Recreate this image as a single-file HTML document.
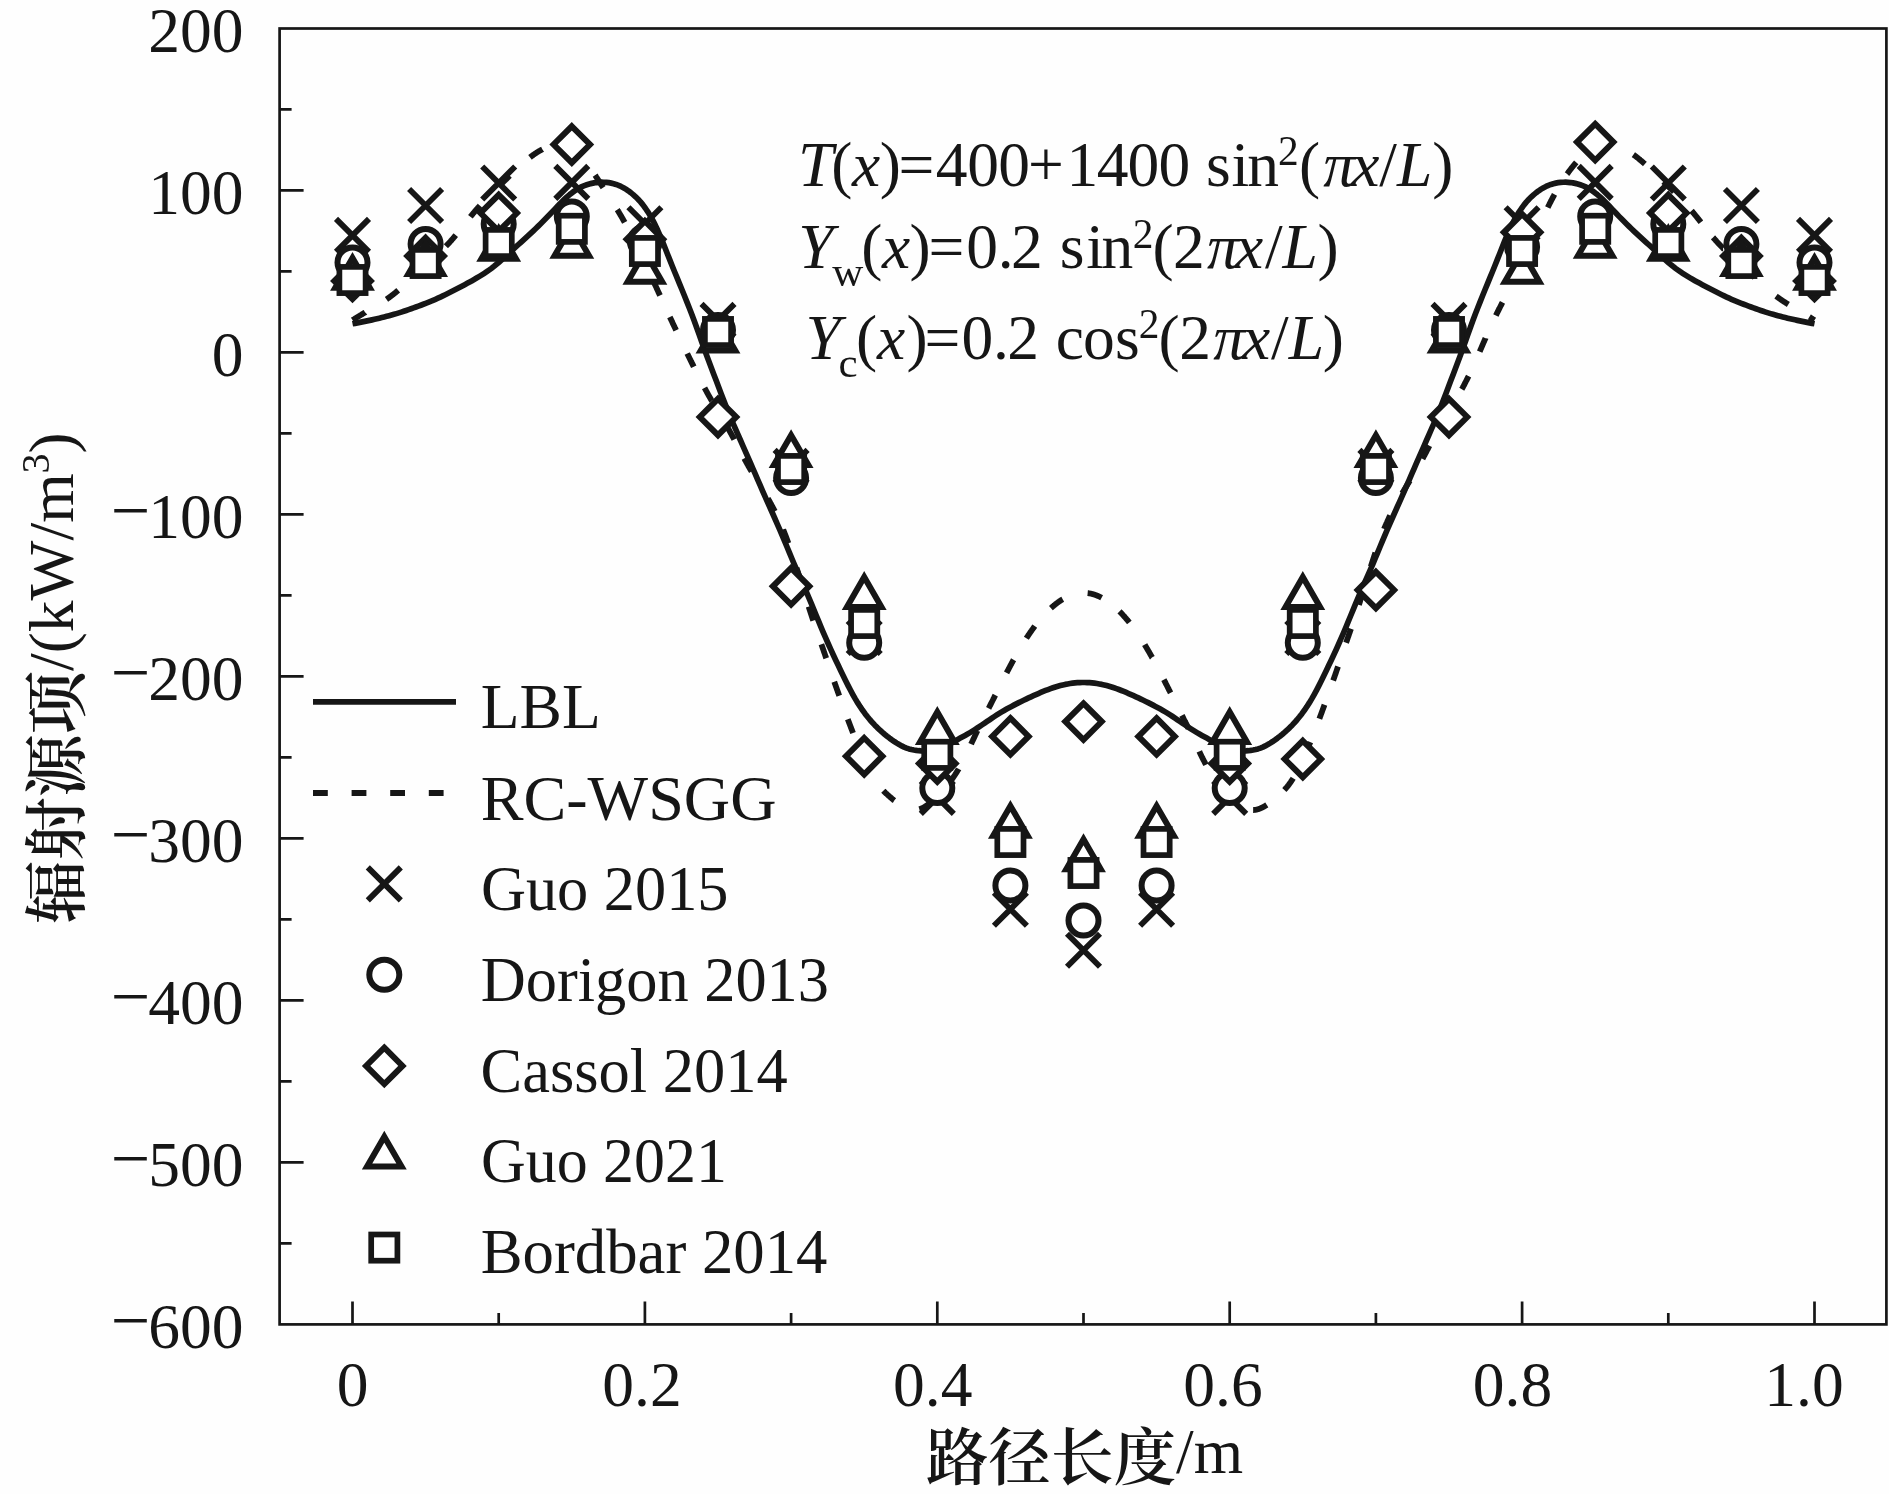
<!DOCTYPE html><html><head><meta charset="utf-8"><title>辐射源项</title><style>html,body{margin:0;padding:0;background:#fefefe;}svg{display:block;will-change:transform;}text{font-family:"Liberation Serif","Noto Serif CJK SC",serif;fill:#161616;}.cjk{font-family:"Noto Serif CJK SC","Liberation Serif",serif;font-weight:600;}</style></head><body>
<svg width="1889" height="1494" viewBox="0 0 1889 1494">
<rect x="0" y="0" width="1889" height="1494" fill="#fefefe"/>
<path d="M352.50,323.81L354.94,323.34L357.38,322.86L359.82,322.37L362.26,321.88L364.70,321.39L367.14,320.88L369.59,320.37L372.03,319.84L374.47,319.30L376.91,318.75L379.35,318.18L381.79,317.59L384.23,316.99L386.67,316.36L389.11,315.71L391.55,315.04L393.99,314.34L396.43,313.62L398.87,312.87L401.31,312.10L403.76,311.30L406.20,310.49L408.64,309.65L411.08,308.80L413.52,307.92L415.96,307.03L418.40,306.13L420.84,305.21L423.28,304.27L425.72,303.32L428.16,302.35L430.60,301.35L433.04,300.33L435.48,299.28L437.93,298.20L440.37,297.08L442.81,295.93L445.25,294.75L447.69,293.54L450.13,292.31L452.57,291.06L455.01,289.79L457.45,288.52L459.89,287.24L462.33,285.95L464.77,284.65L467.21,283.34L469.66,282.00L472.10,280.65L474.54,279.26L476.98,277.83L479.42,276.37L481.86,274.86L484.30,273.30L486.74,271.67L489.18,269.96L491.62,268.18L494.06,266.31L496.50,264.34L498.94,262.28L501.38,260.16L503.83,257.97L506.27,255.75L508.71,253.49L511.15,251.23L513.59,248.96L516.03,246.71L518.47,244.49L520.91,242.27L523.35,240.06L525.79,237.84L528.23,235.62L530.67,233.37L533.11,231.09L535.56,228.77L538.00,226.41L540.44,224.02L542.88,221.58L545.32,219.11L547.76,216.61L550.20,214.06L552.64,211.49L555.08,208.88L557.52,206.29L559.96,203.74L562.40,201.28L564.84,198.92L567.28,196.69L569.73,194.60L572.17,192.66L574.61,190.88L577.05,189.28L579.49,187.87L581.93,186.65L584.37,185.60L586.81,184.72L589.25,183.98L591.69,183.38L594.13,182.90L596.57,182.55L599.01,182.33L601.45,182.22L603.90,182.24L606.34,182.39L608.78,182.68L611.22,183.11L613.66,183.68L616.10,184.43L618.54,185.34L620.98,186.43L623.42,187.70L625.86,189.14L628.30,190.78L630.74,192.59L633.18,194.60L635.63,196.81L638.07,199.23L640.51,201.91L642.95,204.89L645.39,208.21L647.83,211.86L650.27,215.84L652.71,220.18L655.15,224.91L657.59,230.03L660.03,235.54L662.47,241.40L664.91,247.48L667.35,253.69L669.80,259.89L672.24,265.99L674.68,271.97L677.12,277.90L679.56,283.82L682.00,289.77L684.44,295.77L686.88,301.84L689.32,308.02L691.76,314.34L694.20,320.83L696.64,327.50L699.08,334.31L701.53,341.17L703.97,347.99L706.41,354.71L708.85,361.28L711.29,367.75L713.73,374.16L716.17,380.56L718.61,386.99L721.05,393.43L723.49,399.79L725.93,406.00L728.37,412.08L730.81,418.02L733.25,423.81L735.70,429.45L738.14,435.00L740.58,440.52L743.02,446.03L745.46,451.56L747.90,457.11L750.34,462.69L752.78,468.30L755.22,473.93L757.66,479.56L760.10,485.18L762.54,490.77L764.98,496.30L767.42,501.80L769.87,507.28L772.31,512.76L774.75,518.27L777.19,523.80L779.63,529.41L782.07,535.11L784.51,540.91L786.95,546.77L789.39,552.65L791.83,558.50L794.27,564.28L796.71,569.95L799.15,575.50L801.60,581.00L804.04,586.51L806.48,592.09L808.92,597.80L811.36,603.64L813.80,609.56L816.24,615.51L818.68,621.44L821.12,627.30L823.56,633.06L826.00,638.72L828.44,644.27L830.88,649.69L833.32,654.98L835.77,660.18L838.21,665.34L840.65,670.46L843.09,675.52L845.53,680.50L847.97,685.36L850.41,690.06L852.85,694.56L855.29,698.85L857.73,702.91L860.17,706.72L862.61,710.29L865.05,713.65L867.49,716.79L869.94,719.75L872.38,722.53L874.82,725.15L877.26,727.62L879.70,729.96L882.14,732.18L884.58,734.27L887.02,736.24L889.46,738.10L891.90,739.86L894.34,741.52L896.78,743.09L899.22,744.56L901.67,745.90L904.11,747.08L906.55,748.08L908.99,748.89L911.43,749.54L913.87,750.05L916.31,750.43L918.75,750.71L921.19,750.89L923.63,750.99L926.07,750.98L928.51,750.86L930.95,750.60L933.39,750.21L935.84,749.67L938.28,748.99L940.72,748.16L943.16,747.18L945.60,746.06L948.04,744.82L950.48,743.51L952.92,742.15L955.36,740.78L957.80,739.44L960.24,738.11L962.68,736.77L965.12,735.43L967.57,734.05L970.01,732.62L972.45,731.13L974.89,729.59L977.33,728.01L979.77,726.39L982.21,724.75L984.65,723.09L987.09,721.43L989.53,719.77L991.97,718.12L994.41,716.50L996.85,714.92L999.29,713.38L1001.74,711.89L1004.18,710.45L1006.62,709.06L1009.06,707.71L1011.50,706.40L1013.94,705.12L1016.38,703.87L1018.82,702.65L1021.26,701.44L1023.70,700.25L1026.14,699.08L1028.58,697.92L1031.02,696.79L1033.46,695.68L1035.91,694.59L1038.35,693.52L1040.79,692.48L1043.23,691.46L1045.67,690.48L1048.11,689.54L1050.55,688.63L1052.99,687.78L1055.43,686.98L1057.87,686.24L1060.31,685.56L1062.75,684.95L1065.19,684.41L1067.64,683.94L1070.08,683.53L1072.52,683.19L1074.96,682.92L1077.40,682.71L1079.84,682.58L1082.28,682.51L1084.72,682.51L1087.16,682.58L1089.60,682.71L1092.04,682.92L1094.48,683.19L1096.92,683.53L1099.36,683.94L1101.81,684.41L1104.25,684.95L1106.69,685.56L1109.13,686.24L1111.57,686.98L1114.01,687.78L1116.45,688.63L1118.89,689.54L1121.33,690.48L1123.77,691.46L1126.21,692.48L1128.65,693.52L1131.09,694.59L1133.54,695.68L1135.98,696.79L1138.42,697.92L1140.86,699.08L1143.30,700.25L1145.74,701.44L1148.18,702.65L1150.62,703.87L1153.06,705.12L1155.50,706.40L1157.94,707.71L1160.38,709.06L1162.82,710.45L1165.26,711.89L1167.71,713.38L1170.15,714.92L1172.59,716.50L1175.03,718.12L1177.47,719.77L1179.91,721.43L1182.35,723.09L1184.79,724.75L1187.23,726.39L1189.67,728.01L1192.11,729.59L1194.55,731.13L1196.99,732.62L1199.43,734.05L1201.88,735.43L1204.32,736.77L1206.76,738.11L1209.20,739.44L1211.64,740.78L1214.08,742.15L1216.52,743.51L1218.96,744.82L1221.40,746.06L1223.84,747.18L1226.28,748.16L1228.72,748.99L1231.16,749.67L1233.61,750.21L1236.05,750.60L1238.49,750.86L1240.93,750.98L1243.37,750.99L1245.81,750.89L1248.25,750.71L1250.69,750.43L1253.13,750.05L1255.57,749.54L1258.01,748.89L1260.45,748.08L1262.89,747.08L1265.33,745.90L1267.78,744.56L1270.22,743.09L1272.66,741.52L1275.10,739.86L1277.54,738.10L1279.98,736.24L1282.42,734.27L1284.86,732.18L1287.30,729.96L1289.74,727.62L1292.18,725.15L1294.62,722.53L1297.06,719.75L1299.51,716.79L1301.95,713.65L1304.39,710.29L1306.83,706.72L1309.27,702.91L1311.71,698.85L1314.15,694.56L1316.59,690.06L1319.03,685.36L1321.47,680.50L1323.91,675.52L1326.35,670.46L1328.79,665.34L1331.23,660.18L1333.68,654.98L1336.12,649.69L1338.56,644.27L1341.00,638.72L1343.44,633.06L1345.88,627.30L1348.32,621.44L1350.76,615.51L1353.20,609.56L1355.64,603.64L1358.08,597.80L1360.52,592.09L1362.96,586.51L1365.40,581.00L1367.85,575.50L1370.29,569.95L1372.73,564.28L1375.17,558.50L1377.61,552.65L1380.05,546.77L1382.49,540.91L1384.93,535.11L1387.37,529.41L1389.81,523.80L1392.25,518.27L1394.69,512.76L1397.13,507.28L1399.58,501.80L1402.02,496.30L1404.46,490.77L1406.90,485.18L1409.34,479.56L1411.78,473.93L1414.22,468.30L1416.66,462.69L1419.10,457.11L1421.54,451.56L1423.98,446.03L1426.42,440.52L1428.86,435.00L1431.30,429.45L1433.75,423.81L1436.19,418.02L1438.63,412.08L1441.07,406.00L1443.51,399.79L1445.95,393.43L1448.39,386.99L1450.83,380.56L1453.27,374.16L1455.71,367.75L1458.15,361.28L1460.59,354.71L1463.03,347.99L1465.47,341.17L1467.92,334.31L1470.36,327.50L1472.80,320.83L1475.24,314.34L1477.68,308.02L1480.12,301.84L1482.56,295.77L1485.00,289.77L1487.44,283.82L1489.88,277.90L1492.32,271.97L1494.76,265.99L1497.20,259.89L1499.65,253.69L1502.09,247.48L1504.53,241.40L1506.97,235.54L1509.41,230.03L1511.85,224.91L1514.29,220.18L1516.73,215.84L1519.17,211.86L1521.61,208.21L1524.05,204.89L1526.49,201.91L1528.93,199.23L1531.37,196.81L1533.82,194.60L1536.26,192.59L1538.70,190.78L1541.14,189.14L1543.58,187.70L1546.02,186.43L1548.46,185.34L1550.90,184.43L1553.34,183.68L1555.78,183.11L1558.22,182.68L1560.66,182.39L1563.10,182.24L1565.55,182.22L1567.99,182.33L1570.43,182.55L1572.87,182.90L1575.31,183.38L1577.75,183.98L1580.19,184.72L1582.63,185.60L1585.07,186.65L1587.51,187.87L1589.95,189.28L1592.39,190.88L1594.83,192.66L1597.27,194.60L1599.72,196.69L1602.16,198.92L1604.60,201.28L1607.04,203.74L1609.48,206.29L1611.92,208.88L1614.36,211.49L1616.80,214.06L1619.24,216.61L1621.68,219.11L1624.12,221.58L1626.56,224.02L1629.00,226.41L1631.44,228.77L1633.89,231.09L1636.33,233.37L1638.77,235.62L1641.21,237.84L1643.65,240.06L1646.09,242.27L1648.53,244.49L1650.97,246.71L1653.41,248.96L1655.85,251.23L1658.29,253.49L1660.73,255.75L1663.17,257.97L1665.62,260.16L1668.06,262.28L1670.50,264.34L1672.94,266.31L1675.38,268.18L1677.82,269.96L1680.26,271.67L1682.70,273.30L1685.14,274.86L1687.58,276.37L1690.02,277.83L1692.46,279.26L1694.90,280.65L1697.34,282.00L1699.79,283.34L1702.23,284.65L1704.67,285.95L1707.11,287.24L1709.55,288.52L1711.99,289.79L1714.43,291.06L1716.87,292.31L1719.31,293.54L1721.75,294.75L1724.19,295.93L1726.63,297.08L1729.07,298.20L1731.52,299.28L1733.96,300.33L1736.40,301.35L1738.84,302.35L1741.28,303.32L1743.72,304.27L1746.16,305.21L1748.60,306.13L1751.04,307.03L1753.48,307.92L1755.92,308.80L1758.36,309.65L1760.80,310.49L1763.24,311.30L1765.69,312.10L1768.13,312.87L1770.57,313.62L1773.01,314.34L1775.45,315.04L1777.89,315.71L1780.33,316.36L1782.77,316.99L1785.21,317.59L1787.65,318.18L1790.09,318.75L1792.53,319.30L1794.97,319.84L1797.41,320.37L1799.86,320.88L1802.30,321.39L1804.74,321.88L1807.18,322.37L1809.62,322.86L1812.06,323.34L1814.50,323.81" fill="none" stroke="#161616" stroke-width="5.7" stroke-linejoin="round"/>
<path d="M352.58,320.14L352.74,320.03L352.99,319.88L353.23,319.72L353.47,319.57L353.72,319.41L353.96,319.26L354.21,319.10L354.45,318.95L354.69,318.79L354.94,318.64L355.18,318.48L355.42,318.33L355.67,318.17L355.91,318.02L356.16,317.87L356.40,317.71L356.64,317.56L356.89,317.41L357.13,317.25L357.37,317.10L357.62,316.95L357.86,316.80L358.11,316.65L358.35,316.50L358.59,316.34L358.84,316.19L359.08,316.04L359.32,315.89L359.57,315.75L359.81,315.60L360.05,315.45L360.30,315.30L360.54,315.15L360.79,315.01L361.03,314.86L361.27,314.71L361.52,314.57L361.76,314.42L362.00,314.27L362.25,314.13L362.49,313.98L362.74,313.84L362.98,313.69L363.22,313.55L363.47,313.40L363.71,313.26L363.95,313.12L364.20,312.97L364.44,312.83L364.69,312.68L364.93,312.54L365.17,312.40L365.18,312.39M386.49,299.34L386.62,299.25L386.86,299.08L387.11,298.91L387.35,298.74L387.59,298.57L387.84,298.40L388.08,298.23L388.32,298.06L388.57,297.88L388.81,297.71L389.06,297.53L389.30,297.35L389.54,297.18L389.79,297.00L390.03,296.82L390.27,296.64L390.52,296.46L390.76,296.28L391.01,296.09L391.25,295.91L391.49,295.73L391.74,295.54L391.98,295.35L392.22,295.17L392.47,294.98L392.71,294.79L392.96,294.60L393.20,294.41L393.44,294.22L393.69,294.02L393.93,293.83L394.17,293.63L394.42,293.44L394.66,293.24L394.91,293.05L395.15,292.85L395.39,292.65L395.64,292.45L395.88,292.25L396.12,292.05L396.37,291.84L396.61,291.64L396.85,291.44L397.10,291.23L397.34,291.03L397.59,290.82L397.83,290.61L398.07,290.41L398.20,290.30M416.68,273.33L416.84,273.18L417.08,272.95L417.33,272.72L417.57,272.50L417.81,272.27L418.06,272.04L418.30,271.81L418.54,271.59L418.79,271.36L419.03,271.13L419.28,270.91L419.52,270.68L419.76,270.46L420.01,270.23L420.25,270.00L420.49,269.78L420.74,269.56L420.98,269.33L421.23,269.11L421.47,268.88L421.71,268.66L421.96,268.44L422.20,268.22L422.44,267.99L422.69,267.77L422.93,267.55L423.18,267.33L423.42,267.11L423.66,266.89L423.91,266.67L424.15,266.45L424.39,266.23L424.64,266.01L424.88,265.79L425.12,265.57L425.37,265.36L425.61,265.14L425.86,264.92L426.10,264.70L426.34,264.48L426.59,264.26L426.83,264.05L427.07,263.83L427.32,263.61L427.56,263.39L427.61,263.35M445.92,246.22L446.08,246.05L446.33,245.80L446.57,245.55L446.81,245.29L447.06,245.04L447.30,244.78L447.55,244.52L447.79,244.26L448.03,244.00L448.28,243.74L448.52,243.48L448.76,243.22L449.01,242.95L449.25,242.69L449.50,242.42L449.74,242.15L449.98,241.88L450.23,241.61L450.47,241.34L450.71,241.07L450.96,240.80L451.20,240.52L451.45,240.24L451.69,239.97L451.93,239.69L452.18,239.41L452.42,239.13L452.66,238.85L452.91,238.56L453.15,238.28L453.39,237.99L453.64,237.71L453.88,237.42L454.13,237.13L454.37,236.84L454.61,236.55L454.86,236.26L455.10,235.97L455.34,235.67L455.59,235.38L455.76,235.17M470.38,216.83L470.45,216.74L470.70,216.44L470.94,216.14L471.19,215.84L471.43,215.54L471.67,215.24L471.92,214.94L472.16,214.64L472.40,214.34L472.65,214.04L472.89,213.75L473.14,213.45L473.38,213.16L473.62,212.86L473.87,212.57L474.11,212.28L474.35,211.99L474.60,211.70L474.84,211.41L475.08,211.12L475.33,210.83L475.57,210.55L475.82,210.26L476.06,209.97L476.30,209.69L476.55,209.41L476.79,209.13L477.03,208.85L477.28,208.57L477.52,208.29L477.77,208.01L478.01,207.73L478.25,207.45L478.50,207.18L478.74,206.90L478.98,206.63L479.23,206.36L479.47,206.08L479.72,205.81L479.95,205.55M499.12,186.03L499.21,185.93L499.46,185.70L499.70,185.46L499.94,185.23L500.19,184.99L500.43,184.75L500.67,184.52L500.92,184.28L501.16,184.05L501.41,183.81L501.65,183.58L501.89,183.34L502.14,183.11L502.38,182.87L502.62,182.64L502.87,182.40L503.11,182.17L503.35,181.93L503.60,181.69L503.84,181.46L504.09,181.22L504.33,180.99L504.57,180.75L504.82,180.52L505.06,180.28L505.30,180.04L505.55,179.81L505.79,179.57L506.04,179.33L506.28,179.10L506.52,178.86L506.77,178.62L507.01,178.38L507.25,178.15L507.50,177.91L507.74,177.67L507.99,177.44L508.23,177.20L508.47,176.96L508.72,176.72L508.96,176.49L509.20,176.25L509.45,176.01L509.69,175.77L509.74,175.72M530.01,157.37L530.16,157.25L530.41,157.06L530.65,156.87L530.89,156.68L531.14,156.50L531.38,156.31L531.62,156.13L531.87,155.95L532.11,155.77L532.36,155.59L532.60,155.41L532.84,155.23L533.09,155.06L533.33,154.88L533.57,154.71L533.82,154.53L534.06,154.36L534.31,154.19L534.55,154.02L534.79,153.86L535.04,153.69L535.28,153.53L535.52,153.36L535.77,153.20L536.01,153.04L536.26,152.88L536.50,152.72L536.74,152.57L536.99,152.41L537.23,152.26L537.47,152.11L537.72,151.96L537.96,151.81L538.20,151.66L538.45,151.51L538.69,151.37L538.94,151.22L539.18,151.08L539.42,150.94L539.67,150.80L539.91,150.66L540.15,150.53L540.40,150.39L540.64,150.26L540.89,150.13L541.13,150.00L541.37,149.87L541.62,149.74L541.86,149.61L542.10,149.49L542.35,149.37L542.41,149.33M567.36,146.41L567.45,146.45L567.69,146.54L567.94,146.63L568.18,146.73L568.42,146.83L568.67,146.94L568.91,147.05L569.16,147.16L569.40,147.27L569.64,147.39L569.89,147.51L570.13,147.63L570.37,147.76L570.62,147.88L570.86,148.02L571.11,148.15L571.35,148.29L571.59,148.43L571.84,148.57L572.08,148.72L572.32,148.87L572.57,149.02L572.81,149.18L573.06,149.34L573.30,149.50L573.54,149.66L573.79,149.83L574.03,150.00L574.27,150.18L574.52,150.35L574.76,150.53L575.00,150.71L575.25,150.90L575.49,151.09L575.74,151.28L575.98,151.47L576.22,151.67L576.47,151.87L576.71,152.08L576.95,152.28L577.20,152.49L577.44,152.70L577.69,152.92L577.93,153.14L578.17,153.36L578.42,153.58L578.66,153.81L578.90,154.04L579.15,154.27L579.39,154.51L579.53,154.64M595.14,175.19L595.23,175.32L595.48,175.70L595.72,176.08L595.96,176.47L596.21,176.85L596.45,177.23L596.69,177.61L596.94,177.99L597.18,178.37L597.43,178.76L597.67,179.14L597.91,179.52L598.16,179.90L598.40,180.28L598.64,180.66L598.89,181.04L599.13,181.42L599.38,181.80L599.62,182.18L599.86,182.55L600.11,182.93L600.35,183.31L600.59,183.68L600.84,184.06L601.08,184.43L601.33,184.81L601.57,185.18L601.81,185.56L602.06,185.93L602.30,186.31L602.54,186.68L602.79,187.05L603.03,187.42L603.16,187.63M617.28,209.63L617.41,209.84L617.65,210.25L617.90,210.65L618.14,211.05L618.38,211.46L618.63,211.86L618.87,212.27L619.12,212.68L619.36,213.09L619.60,213.50L619.85,213.91L620.09,214.33L620.33,214.74L620.58,215.16L620.82,215.57L621.07,215.99L621.31,216.42L621.55,216.84L621.80,217.26L622.04,217.69L622.28,218.11L622.53,218.54L622.77,218.97L623.02,219.40L623.26,219.84L623.50,220.27L623.75,220.71L623.99,221.14L624.23,221.58L624.48,222.02L624.71,222.44M636.55,245.31L636.66,245.54L636.91,246.03L637.15,246.53L637.39,247.03L637.64,247.53L637.88,248.03L638.12,248.53L638.37,249.03L638.61,249.53L638.86,250.04L639.10,250.54L639.34,251.04L639.59,251.55L639.83,252.06L640.07,252.56L640.32,253.07L640.56,253.58L640.81,254.09L641.05,254.60L641.29,255.11L641.54,255.62L641.78,256.13L642.02,256.64L642.27,257.16L642.51,257.67L642.76,258.18L642.97,258.64M653.81,282.01L653.97,282.34L654.21,282.88L654.45,283.41L654.70,283.94L654.94,284.47L655.18,285.01L655.43,285.54L655.67,286.07L655.92,286.61L656.16,287.14L656.40,287.67L656.65,288.21L656.89,288.74L657.13,289.27L657.38,289.81L657.62,290.34L657.87,290.87L658.11,291.41L658.35,291.94L658.60,292.47L658.84,293.01L659.08,293.54L659.33,294.07L659.57,294.61L659.81,295.14L659.97,295.47M669.85,316.97L670.05,317.41L670.29,317.93L670.54,318.46L670.78,318.98L671.03,319.50L671.27,320.03L671.51,320.55L671.76,321.07L672.00,321.59L672.24,322.12L672.49,322.64L672.73,323.16L672.98,323.68L673.22,324.20L673.46,324.72L673.71,325.24L673.95,325.75L674.19,326.27L674.44,326.79L674.68,327.31L674.92,327.83L675.17,328.34L675.41,328.86L675.66,329.37L675.90,329.89L676.13,330.37M687.27,353.53L687.35,353.71L687.60,354.21L687.84,354.70L688.08,355.20L688.33,355.70L688.57,356.20L688.82,356.70L689.06,357.20L689.30,357.69L689.55,358.19L689.79,358.69L690.03,359.18L690.28,359.68L690.52,360.18L690.77,360.67L691.01,361.17L691.25,361.67L691.50,362.16L691.74,362.66L691.98,363.15L692.23,363.65L692.47,364.14L692.72,364.63L692.96,365.13L693.20,365.62L693.45,366.11L693.69,366.60L693.79,366.81M704.53,387.80L704.66,388.05L704.90,388.50L705.14,388.95L705.39,389.41L705.63,389.86L705.88,390.31L706.12,390.76L706.36,391.20L706.61,391.65L706.85,392.10L707.09,392.54L707.34,392.98L707.58,393.42L707.83,393.86L708.07,394.30L708.31,394.74L708.56,395.17L708.80,395.61L709.04,396.04L709.29,396.47L709.53,396.90L709.77,397.33L710.02,397.76L710.26,398.18L710.51,398.61L710.75,399.03L710.99,399.46L711.24,399.88L711.48,400.30L711.72,400.72L711.73,400.73M727.09,426.61L727.32,427.02L727.57,427.44L727.81,427.87L728.05,428.29L728.30,428.72L728.54,429.15L728.78,429.58L729.03,430.01L729.27,430.44L729.52,430.87L729.76,431.30L730.00,431.74L730.25,432.18L730.49,432.61L730.73,433.05L730.98,433.49L731.22,433.94L731.46,434.38L731.71,434.83L731.95,435.27L732.20,435.72L732.44,436.17L732.68,436.62L732.93,437.07L733.17,437.52L733.41,437.98L733.66,438.43L733.90,438.89L734.15,439.34L734.26,439.56M744.23,458.45L744.38,458.73L744.63,459.18L744.87,459.63L745.11,460.08L745.36,460.53L745.60,460.98L745.84,461.43L746.09,461.87L746.33,462.31L746.57,462.75L746.82,463.19L747.06,463.63L747.31,464.07L747.55,464.50L747.79,464.94L748.04,465.37L748.28,465.80L748.52,466.23L748.77,466.65L749.01,467.08L749.26,467.50L749.50,467.93L749.74,468.35L749.99,468.77L750.23,469.19L750.47,469.60L750.72,470.02L750.96,470.43L751.21,470.85L751.45,471.26L751.50,471.34M767.82,498.39L768.02,498.74L768.26,499.16L768.51,499.59L768.75,500.02L769.00,500.45L769.24,500.88L769.48,501.32L769.73,501.75L769.97,502.19L770.21,502.63L770.46,503.07L770.70,503.51L770.95,503.96L771.19,504.40L771.43,504.85L771.68,505.30L771.92,505.75L772.16,506.21L772.41,506.67L772.65,507.12L772.90,507.58L773.14,508.05L773.38,508.51L773.63,508.98L773.87,509.45L774.11,509.92L774.36,510.40L774.60,510.88L774.84,511.36L774.87,511.40M783.09,529.37L783.13,529.48L783.37,530.08L783.62,530.67L783.86,531.28L784.11,531.88L784.35,532.50L784.59,533.11L784.84,533.73L785.08,534.35L785.32,534.98L785.57,535.61L785.81,536.25L786.06,536.89L786.30,537.54L786.54,538.19L786.79,538.84L787.03,539.50L787.27,540.16L787.52,540.83L787.76,541.50L788.00,542.17L788.25,542.85L788.37,543.19M796.53,567.76L796.53,567.78L796.78,568.55L797.02,569.33L797.27,570.11L797.51,570.88L797.75,571.66L798.00,572.44L798.24,573.23L798.48,574.01L798.73,574.79L798.97,575.58L799.22,576.36L799.46,577.15L799.70,577.94L799.95,578.72L800.19,579.51L800.43,580.30L800.68,581.09L800.92,581.88L800.93,581.89M808.63,606.61L808.72,606.90L808.96,607.66L809.21,608.42L809.45,609.17L809.69,609.92L809.94,610.67L810.18,611.42L810.43,612.17L810.67,612.91L810.91,613.65L811.16,614.39L811.40,615.12L811.64,615.86L811.89,616.59L812.13,617.31L812.38,618.04L812.62,618.77L812.86,619.49L813.11,620.21L813.26,620.67M821.42,644.30L821.64,644.91L821.88,645.62L822.12,646.32L822.37,647.03L822.61,647.74L822.86,648.45L823.10,649.16L823.34,649.87L823.59,650.58L823.83,651.30L824.07,652.01L824.32,652.72L824.56,653.44L824.80,654.16L825.05,654.87L825.29,655.59L825.54,656.31L825.78,657.03L826.02,657.74L826.21,658.30M834.28,681.77L834.31,681.86L834.55,682.55L834.80,683.24L835.04,683.93L835.28,684.62L835.53,685.31L835.77,686.00L836.02,686.68L836.26,687.37L836.50,688.06L836.75,688.74L836.99,689.43L837.23,690.11L837.48,690.80L837.72,691.48L837.96,692.16L838.21,692.85L838.45,693.53L838.70,694.21L838.94,694.89L839.18,695.57L839.23,695.71M847.79,719.17L847.96,719.62L848.20,720.27L848.44,720.92L848.69,721.57L848.93,722.22L849.18,722.87L849.42,723.52L849.66,724.16L849.91,724.81L850.15,725.45L850.39,726.09L850.64,726.73L850.88,727.37L851.13,728.01L851.37,728.65L851.61,729.28L851.86,729.92L852.10,730.55L852.34,731.18L852.59,731.81L852.83,732.44L853.05,733.00M862.71,756.42L862.82,756.67L863.07,757.22L863.31,757.76L863.55,758.30L863.80,758.83L864.04,759.37L864.29,759.90L864.53,760.42L864.77,760.95L865.02,761.47L865.26,761.99L865.50,762.51L865.75,763.02L865.99,763.53L866.23,764.04L866.48,764.54L866.72,765.04L866.97,765.54L867.21,766.04L867.45,766.53L867.70,767.02L867.94,767.50L868.18,767.99L868.43,768.47L868.67,768.94L868.92,769.41L869.10,769.77M883.30,790.66L883.54,790.91L883.78,791.16L884.03,791.40L884.27,791.65L884.51,791.89L884.76,792.13L885.00,792.37L885.24,792.61L885.49,792.84L885.73,793.08L885.98,793.31L886.22,793.54L886.46,793.76L886.71,793.99L886.95,794.21L887.19,794.44L887.44,794.66L887.68,794.88L887.92,795.10L888.17,795.32L888.41,795.54L888.66,795.75L888.90,795.97L889.14,796.18L889.39,796.40L889.63,796.61L889.87,796.82L890.12,797.04L890.36,797.25L890.61,797.46L890.85,797.67L891.09,797.88L891.34,798.08L891.58,798.29L891.82,798.50L892.07,798.70L892.31,798.90L892.56,799.11L892.80,799.31L893.04,799.51L893.29,799.71L893.53,799.91L893.77,800.11L894.02,800.30L894.26,800.50L894.31,800.53M919.32,809.25L919.36,809.24L919.61,809.16L919.85,809.08L920.09,809.00L920.34,808.91L920.58,808.82L920.83,808.73L921.07,808.63L921.31,808.53L921.56,808.43L921.80,808.32L922.04,808.21L922.29,808.09L922.53,807.97L922.78,807.85L923.02,807.73L923.26,807.60L923.51,807.47L923.75,807.34L923.99,807.20L924.24,807.06L924.48,806.92L924.72,806.77L924.97,806.62L925.21,806.47L925.46,806.32L925.70,806.16L925.94,806.00L926.19,805.84L926.43,805.67L926.67,805.51L926.92,805.34L927.16,805.17L927.41,804.99L927.65,804.81L927.89,804.63L928.14,804.45L928.38,804.27L928.62,804.08L928.87,803.90L929.11,803.71L929.36,803.51L929.60,803.32L929.84,803.13L930.09,802.93L930.33,802.73L930.57,802.53L930.82,802.33L931.06,802.12L931.30,801.92L931.55,801.71L931.79,801.50L931.80,801.49M950.52,781.20L950.56,781.16L950.80,780.83L951.05,780.50L951.29,780.17L951.53,779.83L951.78,779.49L952.02,779.16L952.26,778.81L952.51,778.47L952.75,778.12L952.99,777.77L953.24,777.42L953.48,777.07L953.73,776.71L953.97,776.35L954.21,775.99L954.46,775.62L954.70,775.25L954.94,774.88L955.19,774.51L955.43,774.13L955.68,773.75L955.92,773.37L956.16,772.99L956.41,772.60L956.65,772.21L956.89,771.81L957.14,771.42L957.38,771.02L957.63,770.61L957.87,770.21L958.11,769.80L958.36,769.39L958.60,768.98L958.67,768.85M971.08,744.15L971.27,743.73L971.52,743.20L971.76,742.67L972.00,742.15L972.25,741.62L972.49,741.09L972.74,740.57L972.98,740.04L973.22,739.52L973.47,739.00L973.71,738.48L973.95,737.96L974.20,737.44L974.44,736.92L974.68,736.40L974.93,735.89L975.17,735.38L975.42,734.86L975.66,734.35L975.90,733.84L976.15,733.34L976.39,732.83L976.63,732.32L976.88,731.82L977.12,731.31L977.37,730.81L977.39,730.76M988.64,708.33L988.82,707.97L989.06,707.49L989.31,707.01L989.55,706.53L989.79,706.05L990.04,705.57L990.28,705.09L990.53,704.61L990.77,704.13L991.01,703.65L991.26,703.17L991.50,702.69L991.74,702.21L991.99,701.73L992.23,701.25L992.48,700.77L992.72,700.28L992.96,699.80L993.21,699.32L993.45,698.83L993.69,698.35L993.94,697.87L994.18,697.38L994.42,696.90L994.67,696.41L994.91,695.93L995.16,695.45L995.32,695.12M1006.58,672.90L1006.61,672.84L1006.85,672.37L1007.10,671.90L1007.34,671.44L1007.59,670.97L1007.83,670.50L1008.07,670.04L1008.32,669.57L1008.56,669.11L1008.80,668.65L1009.05,668.18L1009.29,667.72L1009.53,667.26L1009.78,666.80L1010.02,666.35L1010.27,665.89L1010.51,665.43L1010.75,664.98L1011.00,664.52L1011.24,664.07L1011.48,663.62L1011.73,663.17L1011.97,662.72L1012.22,662.27L1012.46,661.82L1012.70,661.37L1012.95,660.93L1013.19,660.49L1013.43,660.04L1013.55,659.84M1026.37,638.25L1026.59,637.91L1026.84,637.53L1027.08,637.16L1027.33,636.79L1027.57,636.42L1027.81,636.05L1028.06,635.69L1028.30,635.32L1028.54,634.96L1028.79,634.60L1029.03,634.24L1029.28,633.88L1029.52,633.52L1029.76,633.17L1030.01,632.81L1030.25,632.46L1030.49,632.11L1030.74,631.76L1030.98,631.41L1031.22,631.06L1031.47,630.72L1031.71,630.37L1031.96,630.03L1032.20,629.69L1032.44,629.35L1032.69,629.02L1032.93,628.68L1033.17,628.35L1033.42,628.01L1033.66,627.68L1033.91,627.35L1034.15,627.02L1034.39,626.70L1034.64,626.37L1034.83,626.11M1050.90,608.15L1050.97,608.09L1051.21,607.87L1051.45,607.65L1051.70,607.43L1051.94,607.22L1052.18,607.00L1052.43,606.79L1052.67,606.58L1052.91,606.37L1053.16,606.16L1053.40,605.95L1053.65,605.75L1053.89,605.54L1054.13,605.34L1054.38,605.14L1054.62,604.94L1054.86,604.74L1055.11,604.55L1055.35,604.35L1055.60,604.16L1055.84,603.97L1056.08,603.78L1056.33,603.59L1056.57,603.41L1056.81,603.22L1057.06,603.04L1057.30,602.85L1057.55,602.67L1057.79,602.49L1058.03,602.32L1058.28,602.14L1058.52,601.97L1058.76,601.79L1059.01,601.62L1059.25,601.45L1059.49,601.28L1059.74,601.12L1059.98,600.95L1060.23,600.79L1060.47,600.63L1060.71,600.47L1060.96,600.31L1061.20,600.15L1061.44,600.00L1061.69,599.84L1061.93,599.69L1062.18,599.54L1062.42,599.39L1062.66,599.24L1062.68,599.23M1087.64,593.10L1087.76,593.11L1088.01,593.15L1088.25,593.18L1088.50,593.22L1088.74,593.25L1088.98,593.29L1089.23,593.33L1089.47,593.38L1089.71,593.42L1089.96,593.47L1090.20,593.52L1090.45,593.57L1090.69,593.62L1090.93,593.67L1091.18,593.73L1091.42,593.79L1091.66,593.84L1091.91,593.91L1092.15,593.97L1092.40,594.03L1092.64,594.10L1092.88,594.17L1093.13,594.23L1093.37,594.31L1093.61,594.38L1093.86,594.45L1094.10,594.53L1094.34,594.61L1094.59,594.69L1094.83,594.77L1095.08,594.85L1095.32,594.94L1095.56,595.02L1095.81,595.11L1096.05,595.20L1096.29,595.29L1096.54,595.38L1096.78,595.48L1097.03,595.58L1097.27,595.67L1097.51,595.77L1097.76,595.88L1098.00,595.98L1098.24,596.08L1098.49,596.19L1098.73,596.30L1098.98,596.41L1099.22,596.52L1099.46,596.63L1099.71,596.75L1099.95,596.86L1100.19,596.98L1100.44,597.10L1100.68,597.22L1100.93,597.35L1101.17,597.47L1101.41,597.60L1101.62,597.71M1119.50,611.39L1119.69,611.58L1119.93,611.83L1120.18,612.08L1120.42,612.32L1120.67,612.57L1120.91,612.83L1121.15,613.08L1121.40,613.33L1121.64,613.59L1121.88,613.85L1122.13,614.11L1122.37,614.37L1122.62,614.63L1122.86,614.89L1123.10,615.16L1123.35,615.42L1123.59,615.69L1123.83,615.96L1124.08,616.23L1124.32,616.51L1124.56,616.78L1124.81,617.06L1125.05,617.33L1125.30,617.61L1125.54,617.89L1125.78,618.18L1126.03,618.46L1126.27,618.74L1126.51,619.03L1126.76,619.32L1127.00,619.61L1127.25,619.90L1127.49,620.19L1127.73,620.49L1127.98,620.78L1128.22,621.08L1128.46,621.38L1128.71,621.68L1128.95,621.98L1129.20,622.29L1129.32,622.45M1144.66,644.64L1144.79,644.87L1145.04,645.27L1145.28,645.67L1145.52,646.07L1145.77,646.47L1146.01,646.88L1146.25,647.28L1146.50,647.69L1146.74,648.10L1146.99,648.51L1147.23,648.92L1147.47,649.33L1147.72,649.75L1147.96,650.16L1148.20,650.58L1148.45,651.00L1148.69,651.42L1148.94,651.84L1149.18,652.26L1149.42,652.68L1149.67,653.10L1149.91,653.53L1150.15,653.95L1150.40,654.38L1150.64,654.81L1150.89,655.24L1151.13,655.67L1151.37,656.10L1151.62,656.54L1151.86,656.97L1152.10,657.41L1152.11,657.42M1163.87,679.63L1164.05,679.97L1164.29,680.45L1164.53,680.93L1164.78,681.41L1165.02,681.89L1165.26,682.37L1165.51,682.85L1165.75,683.33L1165.99,683.82L1166.24,684.30L1166.48,684.78L1166.73,685.26L1166.97,685.75L1167.21,686.23L1167.46,686.72L1167.70,687.20L1167.94,687.68L1168.19,688.17L1168.43,688.65L1168.68,689.14L1168.92,689.62L1169.16,690.11L1169.41,690.59L1169.65,691.08L1169.89,691.56L1170.14,692.05L1170.38,692.53L1170.54,692.84M1181.95,715.39L1182.08,715.64L1182.32,716.12L1182.57,716.60L1182.81,717.08L1183.05,717.56L1183.30,718.04L1183.54,718.53L1183.79,719.01L1184.03,719.49L1184.27,719.98L1184.52,720.46L1184.76,720.95L1185.00,721.44L1185.25,721.92L1185.49,722.41L1185.74,722.90L1185.98,723.39L1186.22,723.88L1186.47,724.37L1186.71,724.86L1186.95,725.35L1187.20,725.84L1187.44,726.33L1187.68,726.83L1187.93,727.32L1188.17,727.82L1188.42,728.31L1188.57,728.63M1199.33,751.49L1199.38,751.61L1199.63,752.12L1199.87,752.64L1200.11,753.15L1200.36,753.66L1200.60,754.17L1200.85,754.68L1201.09,755.18L1201.33,755.68L1201.58,756.18L1201.82,756.68L1202.06,757.17L1202.31,757.67L1202.55,758.15L1202.79,758.64L1203.04,759.12L1203.28,759.60L1203.53,760.08L1203.77,760.55L1204.01,761.02L1204.26,761.49L1204.50,761.95L1204.74,762.41L1204.99,762.87L1205.23,763.33L1205.48,763.78L1205.72,764.23L1205.96,764.67L1205.98,764.71M1220.70,786.55L1220.83,786.71L1221.07,787.00L1221.32,787.29L1221.56,787.57L1221.80,787.86L1222.05,788.15L1222.29,788.43L1222.54,788.71L1222.78,788.99L1223.02,789.27L1223.27,789.55L1223.51,789.83L1223.75,790.10L1224.00,790.37L1224.24,790.65L1224.48,790.92L1224.73,791.19L1224.97,791.46L1225.22,791.72L1225.46,791.99L1225.70,792.25L1225.95,792.52L1226.19,792.78L1226.43,793.04L1226.68,793.30L1226.92,793.56L1227.17,793.81L1227.41,794.07L1227.65,794.32L1227.90,794.57L1228.14,794.82L1228.38,795.07L1228.63,795.32L1228.87,795.57L1229.12,795.81L1229.36,796.06L1229.60,796.30L1229.85,796.54L1230.09,796.78L1230.33,797.02L1230.58,797.26L1230.74,797.41M1253.13,810.03L1253.24,810.03L1253.49,810.02L1253.73,810.01L1253.97,809.99L1254.22,809.97L1254.46,809.95L1254.70,809.92L1254.95,809.89L1255.19,809.86L1255.44,809.82L1255.68,809.78L1255.92,809.73L1256.17,809.69L1256.41,809.64L1256.65,809.58L1256.90,809.52L1257.14,809.46L1257.39,809.40L1257.63,809.33L1257.87,809.26L1258.12,809.19L1258.36,809.12L1258.60,809.04L1258.85,808.96L1259.09,808.87L1259.33,808.78L1259.58,808.69L1259.82,808.60L1260.07,808.50L1260.31,808.40L1260.55,808.30L1260.80,808.20L1261.04,808.09L1261.28,807.98L1261.53,807.87L1261.77,807.75L1262.02,807.64L1262.26,807.51L1262.50,807.39L1262.75,807.27L1262.99,807.14L1263.23,807.01L1263.48,806.88L1263.72,806.74L1263.97,806.61L1264.21,806.47L1264.45,806.33L1264.70,806.18L1264.94,806.04L1265.18,805.89L1265.43,805.74L1265.67,805.59L1265.91,805.44L1266.16,805.28L1266.40,805.12L1266.65,804.96L1266.80,804.87M1284.33,790.00L1284.44,789.88L1284.68,789.62L1284.92,789.35L1285.17,789.08L1285.41,788.81L1285.66,788.54L1285.90,788.26L1286.14,787.98L1286.39,787.69L1286.63,787.41L1286.87,787.11L1287.12,786.82L1287.36,786.52L1287.60,786.22L1287.85,785.91L1288.09,785.60L1288.34,785.29L1288.58,784.97L1288.82,784.65L1289.07,784.32L1289.31,783.99L1289.55,783.66L1289.80,783.32L1290.04,782.97L1290.29,782.63L1290.53,782.27L1290.77,781.92L1291.02,781.56L1291.26,781.19L1291.50,780.82L1291.75,780.45L1291.99,780.08L1292.24,779.69L1292.48,779.31L1292.72,778.92L1292.97,778.53L1293.18,778.18M1304.58,755.77L1304.66,755.58L1304.91,755.02L1305.15,754.47L1305.40,753.91L1305.64,753.35L1305.88,752.79L1306.13,752.23L1306.37,751.66L1306.61,751.09L1306.86,750.52L1307.10,749.95L1307.35,749.37L1307.59,748.79L1307.83,748.21L1308.08,747.63L1308.32,747.05L1308.56,746.46L1308.81,745.87L1309.05,745.28L1309.29,744.69L1309.54,744.09L1309.78,743.49L1310.03,742.90L1310.27,742.30L1310.34,742.13M1319.40,718.66L1319.53,718.31L1319.77,717.66L1320.02,717.00L1320.26,716.35L1320.51,715.69L1320.75,715.03L1320.99,714.37L1321.24,713.71L1321.48,713.05L1321.72,712.39L1321.97,711.72L1322.21,711.06L1322.45,710.39L1322.70,709.73L1322.94,709.06L1323.19,708.39L1323.43,707.72L1323.67,707.06L1323.92,706.39L1324.16,705.72L1324.40,705.04L1324.50,704.77M1333.18,680.47L1333.42,679.78L1333.67,679.08L1333.91,678.39L1334.15,677.69L1334.40,676.99L1334.64,676.29L1334.88,675.59L1335.13,674.89L1335.37,674.19L1335.62,673.48L1335.86,672.78L1336.10,672.07L1336.35,671.36L1336.59,670.65L1336.83,669.94L1337.08,669.22L1337.32,668.51L1337.56,667.80L1337.81,667.08L1338.01,666.48M1346.11,642.76L1346.34,642.09L1346.58,641.39L1346.83,640.68L1347.07,639.98L1347.31,639.28L1347.56,638.57L1347.80,637.87L1348.04,637.17L1348.29,636.47L1348.53,635.77L1348.78,635.06L1349.02,634.36L1349.26,633.66L1349.51,632.96L1349.75,632.26L1349.99,631.56L1350.24,630.85L1350.48,630.15L1350.73,629.45L1350.96,628.77M1358.93,604.86L1359.01,604.61L1359.25,603.84L1359.50,603.07L1359.74,602.30L1359.99,601.53L1360.23,600.75L1360.47,599.97L1360.72,599.20L1360.96,598.42L1361.20,597.64L1361.45,596.86L1361.69,596.07L1361.94,595.29L1362.18,594.51L1362.42,593.72L1362.67,592.93L1362.91,592.15L1363.15,591.36L1363.35,590.73M1370.82,566.65L1370.95,566.24L1371.20,565.47L1371.44,564.70L1371.68,563.94L1371.93,563.18L1372.17,562.41L1372.41,561.65L1372.66,560.90L1372.90,560.14L1373.15,559.39L1373.39,558.64L1373.63,557.89L1373.88,557.15L1374.12,556.40L1374.36,555.66L1374.61,554.93L1374.85,554.19L1375.10,553.46L1375.34,552.73L1375.39,552.58M1384.10,528.92L1384.11,528.89L1384.36,528.30L1384.60,527.72L1384.84,527.14L1385.09,526.57L1385.33,525.99L1385.58,525.43L1385.82,524.86L1386.06,524.30L1386.31,523.75L1386.55,523.19L1386.79,522.64L1387.04,522.10L1387.28,521.55L1387.52,521.01L1387.77,520.48L1388.01,519.95L1388.26,519.42L1388.50,518.89L1388.74,518.37L1388.99,517.85L1389.23,517.33L1389.47,516.82L1389.72,516.31L1389.96,515.80L1390.15,515.41M1402.18,493.27L1402.39,492.91L1402.63,492.51L1402.88,492.10L1403.12,491.69L1403.37,491.29L1403.61,490.88L1403.85,490.48L1404.10,490.08L1404.34,489.68L1404.58,489.27L1404.83,488.87L1405.07,488.47L1405.32,488.07L1405.56,487.67L1405.80,487.27L1406.05,486.88L1406.29,486.48L1406.53,486.08L1406.78,485.68L1407.02,485.29L1407.27,484.89L1407.51,484.49L1407.75,484.10L1408.00,483.70L1408.24,483.30L1408.48,482.91L1408.73,482.51L1408.97,482.11L1409.21,481.72L1409.46,481.32L1409.70,480.92L1409.88,480.63M1422.56,458.84L1422.62,458.73L1422.86,458.27L1423.11,457.82L1423.35,457.36L1423.59,456.91L1423.84,456.45L1424.08,455.99L1424.32,455.54L1424.57,455.08L1424.81,454.62L1425.06,454.15L1425.30,453.69L1425.54,453.23L1425.79,452.77L1426.03,452.31L1426.27,451.84L1426.52,451.38L1426.76,450.91L1427.01,450.45L1427.25,449.99L1427.49,449.52L1427.74,449.06L1427.98,448.59L1428.22,448.13L1428.47,447.66L1428.71,447.19L1428.96,446.73L1429.20,446.27L1429.44,445.80L1429.47,445.75M1441.61,423.72L1441.63,423.69L1441.87,423.28L1442.12,422.86L1442.36,422.45L1442.60,422.04L1442.85,421.63L1443.09,421.22L1443.33,420.81L1443.58,420.40L1443.82,419.99L1444.06,419.58L1444.31,419.17L1444.55,418.76L1444.80,418.36L1445.04,417.95L1445.28,417.55L1445.53,417.14L1445.77,416.73L1446.01,416.33L1446.26,415.92L1446.50,415.52L1446.75,415.12L1446.99,414.71L1447.23,414.31L1447.48,413.90L1447.72,413.50L1447.96,413.10L1448.21,412.69L1448.45,412.29L1448.70,411.88L1448.94,411.48L1449.18,411.08L1449.21,411.02M1461.81,389.25L1461.86,389.17L1462.10,388.71L1462.34,388.26L1462.59,387.81L1462.83,387.35L1463.07,386.89L1463.32,386.43L1463.56,385.97L1463.81,385.51L1464.05,385.05L1464.29,384.58L1464.54,384.11L1464.78,383.65L1465.02,383.18L1465.27,382.70L1465.51,382.23L1465.75,381.76L1466.00,381.28L1466.24,380.80L1466.49,380.32L1466.73,379.84L1466.97,379.36L1467.22,378.87L1467.46,378.39L1467.70,377.90L1467.95,377.41L1468.19,376.92L1468.44,376.42L1468.60,376.10M1479.67,351.73L1479.89,351.21L1480.13,350.64L1480.38,350.06L1480.62,349.49L1480.86,348.92L1481.11,348.35L1481.35,347.77L1481.60,347.20L1481.84,346.63L1482.08,346.06L1482.33,345.49L1482.57,344.93L1482.81,344.36L1483.06,343.79L1483.30,343.23L1483.55,342.66L1483.79,342.10L1484.03,341.54L1484.28,340.97L1484.52,340.41L1484.76,339.85L1485.01,339.29L1485.25,338.74L1485.50,338.18L1485.51,338.14M1495.87,315.55L1495.97,315.33L1496.22,314.83L1496.46,314.33L1496.71,313.83L1496.95,313.33L1497.19,312.83L1497.44,312.33L1497.68,311.84L1497.92,311.35L1498.17,310.86L1498.41,310.37L1498.66,309.88L1498.90,309.39L1499.14,308.91L1499.39,308.43L1499.63,307.94L1499.87,307.46L1500.12,306.98L1500.36,306.51L1500.61,306.03L1500.85,305.56L1501.09,305.08L1501.34,304.61L1501.58,304.14L1501.82,303.67L1502.07,303.20L1502.31,302.73L1502.52,302.33M1514.21,280.05L1514.25,279.97L1514.50,279.49L1514.74,279.01L1514.98,278.53L1515.23,278.04L1515.47,277.56L1515.71,277.07L1515.96,276.58L1516.20,276.09L1516.45,275.60L1516.69,275.10L1516.93,274.60L1517.18,274.11L1517.42,273.61L1517.66,273.11L1517.91,272.60L1518.15,272.10L1518.40,271.59L1518.64,271.09L1518.88,270.58L1519.13,270.07L1519.37,269.56L1519.61,269.04L1519.86,268.53L1520.10,268.01L1520.35,267.50L1520.59,266.98L1520.70,266.74M1531.09,243.83L1531.31,243.33L1531.56,242.78L1531.80,242.23L1532.04,241.68L1532.29,241.13L1532.53,240.59L1532.77,240.04L1533.02,239.49L1533.26,238.94L1533.51,238.39L1533.75,237.85L1533.99,237.30L1534.24,236.75L1534.48,236.20L1534.72,235.66L1534.97,235.11L1535.21,234.56L1535.46,234.02L1535.70,233.47L1535.94,232.93L1536.19,232.38L1536.43,231.84L1536.67,231.29L1536.92,230.75L1537.11,230.31M1547.73,207.50L1547.88,207.18L1548.13,206.68L1548.37,206.19L1548.62,205.70L1548.86,205.21L1549.10,204.72L1549.35,204.24L1549.59,203.75L1549.83,203.27L1550.08,202.79L1550.32,202.31L1550.57,201.84L1550.81,201.36L1551.05,200.89L1551.30,200.42L1551.54,199.95L1551.78,199.49L1552.03,199.02L1552.27,198.56L1552.51,198.10L1552.76,197.64L1553.00,197.18L1553.25,196.73L1553.49,196.28L1553.73,195.82L1553.98,195.38L1554.22,194.93L1554.46,194.48L1554.53,194.36M1567.11,174.04L1567.14,174.01L1567.38,173.66L1567.62,173.32L1567.87,172.98L1568.11,172.64L1568.36,172.31L1568.60,171.97L1568.84,171.64L1569.09,171.31L1569.33,170.98L1569.57,170.65L1569.82,170.33L1570.06,170.00L1570.31,169.68L1570.55,169.36L1570.79,169.04L1571.04,168.73L1571.28,168.41L1571.52,168.10L1571.77,167.79L1572.01,167.48L1572.25,167.17L1572.50,166.87L1572.74,166.56L1572.99,166.26L1573.23,165.96L1573.47,165.66L1573.72,165.37L1573.96,165.07L1574.20,164.78L1574.45,164.49L1574.69,164.20L1574.94,163.92L1575.18,163.63L1575.42,163.35L1575.67,163.07L1575.91,162.79L1576.15,162.52L1576.25,162.41M1595.99,147.27L1596.14,147.21L1596.38,147.11L1596.63,147.02L1596.87,146.93L1597.11,146.85L1597.36,146.76L1597.60,146.68L1597.84,146.60L1598.09,146.52L1598.33,146.44L1598.58,146.36L1598.82,146.29L1599.06,146.22L1599.31,146.15L1599.55,146.08L1599.79,146.02L1600.04,145.96L1600.28,145.90L1600.53,145.84L1600.77,145.78L1601.01,145.73L1601.26,145.67L1601.50,145.62L1601.74,145.57L1601.99,145.53L1602.23,145.48L1602.47,145.44L1602.72,145.40L1602.96,145.36L1603.21,145.32L1603.45,145.29L1603.69,145.26L1603.94,145.22L1604.18,145.20L1604.42,145.17L1604.67,145.14L1604.91,145.12L1605.16,145.10L1605.40,145.08L1605.64,145.06L1605.89,145.05L1606.13,145.03L1606.37,145.02L1606.62,145.01L1606.86,145.01L1607.11,145.00L1607.35,145.00L1607.59,145.00L1607.84,145.00L1608.08,145.00L1608.32,145.00L1608.57,145.01L1608.81,145.02L1609.05,145.03L1609.30,145.04L1609.54,145.05L1609.79,145.07L1610.03,145.09L1610.27,145.10L1610.49,145.12M1633.40,154.68L1633.43,154.70L1633.67,154.87L1633.91,155.05L1634.16,155.22L1634.40,155.40L1634.64,155.58L1634.89,155.76L1635.13,155.94L1635.38,156.12L1635.62,156.30L1635.86,156.49L1636.11,156.67L1636.35,156.86L1636.59,157.05L1636.84,157.24L1637.08,157.42L1637.32,157.62L1637.57,157.81L1637.81,158.00L1638.06,158.19L1638.30,158.39L1638.54,158.59L1638.79,158.78L1639.03,158.98L1639.27,159.18L1639.52,159.38L1639.76,159.58L1640.01,159.78L1640.25,159.99L1640.49,160.19L1640.74,160.39L1640.98,160.60L1641.22,160.81L1641.47,161.01L1641.71,161.22L1641.96,161.43L1642.20,161.64L1642.44,161.85L1642.69,162.06L1642.93,162.27L1643.17,162.49L1643.42,162.70L1643.66,162.92L1643.90,163.13L1644.15,163.35L1644.39,163.56L1644.64,163.78L1644.88,164.00L1644.88,164.00M1663.43,181.72L1663.65,181.93L1663.89,182.17L1664.13,182.40L1664.38,182.64L1664.62,182.87L1664.86,183.11L1665.11,183.34L1665.35,183.58L1665.59,183.81L1665.84,184.05L1666.08,184.28L1666.33,184.52L1666.57,184.76L1666.81,184.99L1667.06,185.23L1667.30,185.46L1667.54,185.70L1667.79,185.93L1668.03,186.17L1668.28,186.40L1668.52,186.64L1668.76,186.88L1669.01,187.11L1669.25,187.35L1669.49,187.59L1669.74,187.82L1669.98,188.06L1670.23,188.30L1670.47,188.53L1670.71,188.77L1670.96,189.01L1671.20,189.24L1671.44,189.48L1671.69,189.72L1671.93,189.96L1672.17,190.20L1672.42,190.44L1672.66,190.68L1672.91,190.91L1673.15,191.15L1673.39,191.39L1673.64,191.63L1673.88,191.87L1674.04,192.04M1691.59,210.74L1691.67,210.83L1691.92,211.12L1692.16,211.41L1692.40,211.70L1692.65,211.99L1692.89,212.28L1693.13,212.57L1693.38,212.86L1693.62,213.16L1693.86,213.45L1694.11,213.75L1694.35,214.04L1694.60,214.34L1694.84,214.64L1695.08,214.94L1695.33,215.24L1695.57,215.54L1695.81,215.84L1696.06,216.14L1696.30,216.44L1696.55,216.74L1696.79,217.05L1697.03,217.35L1697.28,217.65L1697.52,217.96L1697.76,218.26L1698.01,218.57L1698.25,218.87L1698.50,219.18L1698.74,219.49L1698.98,219.79L1699.23,220.10L1699.47,220.41L1699.71,220.72L1699.96,221.02L1700.20,221.33L1700.44,221.64L1700.69,221.95L1700.91,222.23M1713.10,237.40L1713.12,237.42L1713.36,237.71L1713.61,237.99L1713.85,238.28L1714.09,238.56L1714.34,238.84L1714.58,239.13L1714.82,239.41L1715.07,239.69L1715.31,239.97L1715.55,240.24L1715.80,240.52L1716.04,240.80L1716.29,241.07L1716.53,241.34L1716.77,241.61L1717.02,241.88L1717.26,242.15L1717.50,242.42L1717.75,242.69L1717.99,242.95L1718.24,243.22L1718.48,243.48L1718.72,243.74L1718.97,244.00L1719.21,244.26L1719.45,244.52L1719.70,244.78L1719.94,245.04L1720.19,245.29L1720.43,245.55L1720.67,245.80L1720.92,246.05L1721.16,246.31L1721.40,246.56L1721.65,246.81L1721.89,247.05L1722.13,247.30L1722.38,247.55L1722.62,247.80L1722.87,248.04L1723.11,248.29L1723.12,248.29M1743.94,267.43L1744.07,267.55L1744.31,267.77L1744.56,267.99L1744.80,268.22L1745.04,268.44L1745.29,268.66L1745.53,268.88L1745.77,269.11L1746.02,269.33L1746.26,269.56L1746.51,269.78L1746.75,270.00L1746.99,270.23L1747.24,270.46L1747.48,270.68L1747.72,270.91L1747.97,271.13L1748.21,271.36L1748.46,271.59L1748.70,271.81L1748.94,272.04L1749.19,272.27L1749.43,272.50L1749.67,272.72L1749.92,272.95L1750.16,273.18L1750.40,273.41L1750.65,273.64L1750.89,273.87L1751.14,274.10L1751.38,274.33L1751.62,274.55L1751.87,274.78L1752.11,275.01L1752.35,275.24L1752.60,275.47L1752.84,275.70L1753.09,275.93L1753.33,276.16L1753.57,276.39L1753.82,276.62L1754.06,276.85L1754.30,277.08L1754.55,277.31L1754.77,277.52M1776.05,296.14L1776.24,296.28L1776.48,296.46L1776.73,296.64L1776.97,296.82L1777.21,297.00L1777.46,297.18L1777.70,297.35L1777.94,297.53L1778.19,297.71L1778.43,297.88L1778.68,298.06L1778.92,298.23L1779.16,298.40L1779.41,298.57L1779.65,298.74L1779.89,298.91L1780.14,299.08L1780.38,299.25L1780.62,299.42L1780.87,299.59L1781.11,299.76L1781.36,299.92L1781.60,300.09L1781.84,300.25L1782.09,300.42L1782.33,300.58L1782.57,300.74L1782.82,300.90L1783.06,301.06L1783.31,301.23L1783.55,301.39L1783.79,301.55L1784.04,301.70L1784.28,301.86L1784.52,302.02L1784.77,302.18L1785.01,302.34L1785.26,302.49L1785.50,302.65L1785.74,302.80L1785.99,302.96L1786.23,303.11L1786.47,303.26L1786.72,303.42L1786.96,303.57L1787.20,303.72L1787.45,303.88L1787.69,304.03L1787.94,304.18L1788.18,304.33L1788.31,304.41M1809.28,316.89L1809.38,316.95L1809.63,317.10L1809.87,317.25L1810.11,317.41L1810.36,317.56L1810.60,317.71L1810.84,317.87L1811.09,318.02L1811.33,318.17L1811.58,318.33L1811.82,318.48L1812.06,318.64L1812.31,318.79L1812.55,318.95L1812.79,319.10L1813.04,319.26L1813.28,319.41L1813.53,319.57L1813.77,319.72L1814.01,319.88L1814.26,320.03L1814.50,320.19" fill="none" stroke="#161616" stroke-width="5.8" stroke-linecap="butt"/>
<path d="M336.00,218.90L369.00,251.90M336.00,251.90L369.00,218.90" fill="none" stroke="#161616" stroke-width="5.8" stroke-linecap="butt"/>
<path d="M409.10,189.00L442.10,222.00M409.10,222.00L442.10,189.00" fill="none" stroke="#161616" stroke-width="5.8" stroke-linecap="butt"/>
<path d="M482.20,166.50L515.20,199.50M482.20,199.50L515.20,166.50" fill="none" stroke="#161616" stroke-width="5.8" stroke-linecap="butt"/>
<path d="M555.30,165.90L588.30,198.90M555.30,198.90L588.30,165.90" fill="none" stroke="#161616" stroke-width="5.8" stroke-linecap="butt"/>
<path d="M628.40,207.20L661.40,240.20M628.40,240.20L661.40,207.20" fill="none" stroke="#161616" stroke-width="5.8" stroke-linecap="butt"/>
<path d="M701.50,303.90L734.50,336.90M701.50,336.90L734.50,303.90" fill="none" stroke="#161616" stroke-width="5.8" stroke-linecap="butt"/>
<path d="M774.60,449.90L807.60,482.90M774.60,482.90L807.60,449.90" fill="none" stroke="#161616" stroke-width="5.8" stroke-linecap="butt"/>
<path d="M847.70,621.00L880.70,654.00M847.70,654.00L880.70,621.00" fill="none" stroke="#161616" stroke-width="5.8" stroke-linecap="butt"/>
<path d="M920.80,780.90L953.80,813.90M920.80,813.90L953.80,780.90" fill="none" stroke="#161616" stroke-width="5.8" stroke-linecap="butt"/>
<path d="M993.90,892.80L1026.90,925.80M993.90,925.80L1026.90,892.80" fill="none" stroke="#161616" stroke-width="5.8" stroke-linecap="butt"/>
<path d="M1067.00,933.80L1100.00,966.80M1067.00,966.80L1100.00,933.80" fill="none" stroke="#161616" stroke-width="5.8" stroke-linecap="butt"/>
<path d="M1140.10,892.80L1173.10,925.80M1140.10,925.80L1173.10,892.80" fill="none" stroke="#161616" stroke-width="5.8" stroke-linecap="butt"/>
<path d="M1213.20,780.90L1246.20,813.90M1213.20,813.90L1246.20,780.90" fill="none" stroke="#161616" stroke-width="5.8" stroke-linecap="butt"/>
<path d="M1286.30,621.00L1319.30,654.00M1286.30,654.00L1319.30,621.00" fill="none" stroke="#161616" stroke-width="5.8" stroke-linecap="butt"/>
<path d="M1359.40,449.90L1392.40,482.90M1359.40,482.90L1392.40,449.90" fill="none" stroke="#161616" stroke-width="5.8" stroke-linecap="butt"/>
<path d="M1432.50,303.90L1465.50,336.90M1432.50,336.90L1465.50,303.90" fill="none" stroke="#161616" stroke-width="5.8" stroke-linecap="butt"/>
<path d="M1505.60,207.20L1538.60,240.20M1505.60,240.20L1538.60,207.20" fill="none" stroke="#161616" stroke-width="5.8" stroke-linecap="butt"/>
<path d="M1578.70,165.90L1611.70,198.90M1578.70,198.90L1611.70,165.90" fill="none" stroke="#161616" stroke-width="5.8" stroke-linecap="butt"/>
<path d="M1651.80,166.50L1684.80,199.50M1651.80,199.50L1684.80,166.50" fill="none" stroke="#161616" stroke-width="5.8" stroke-linecap="butt"/>
<path d="M1724.90,189.00L1757.90,222.00M1724.90,222.00L1757.90,189.00" fill="none" stroke="#161616" stroke-width="5.8" stroke-linecap="butt"/>
<path d="M1798.00,218.90L1831.00,251.90M1798.00,251.90L1831.00,218.90" fill="none" stroke="#161616" stroke-width="5.8" stroke-linecap="butt"/>
<circle cx="352.50" cy="262.50" r="15" fill="#fff" stroke="#161616" stroke-width="6"/>
<circle cx="425.60" cy="244.00" r="15" fill="#fff" stroke="#161616" stroke-width="6"/>
<circle cx="498.70" cy="224.00" r="15" fill="#fff" stroke="#161616" stroke-width="6"/>
<circle cx="571.80" cy="216.60" r="15" fill="#fff" stroke="#161616" stroke-width="6"/>
<circle cx="644.90" cy="241.50" r="15" fill="#fff" stroke="#161616" stroke-width="6"/>
<circle cx="718.00" cy="330.00" r="15" fill="#fff" stroke="#161616" stroke-width="6"/>
<circle cx="791.10" cy="478.00" r="15" fill="#fff" stroke="#161616" stroke-width="6"/>
<circle cx="864.20" cy="642.80" r="15" fill="#fff" stroke="#161616" stroke-width="6"/>
<circle cx="937.30" cy="788.00" r="15" fill="#fff" stroke="#161616" stroke-width="6"/>
<circle cx="1010.40" cy="885.40" r="15" fill="#fff" stroke="#161616" stroke-width="6"/>
<circle cx="1083.50" cy="920.40" r="15" fill="#fff" stroke="#161616" stroke-width="6"/>
<circle cx="1156.60" cy="885.40" r="15" fill="#fff" stroke="#161616" stroke-width="6"/>
<circle cx="1229.70" cy="788.00" r="15" fill="#fff" stroke="#161616" stroke-width="6"/>
<circle cx="1302.80" cy="642.80" r="15" fill="#fff" stroke="#161616" stroke-width="6"/>
<circle cx="1375.90" cy="478.00" r="15" fill="#fff" stroke="#161616" stroke-width="6"/>
<circle cx="1449.00" cy="330.00" r="15" fill="#fff" stroke="#161616" stroke-width="6"/>
<circle cx="1522.10" cy="247.00" r="15" fill="#fff" stroke="#161616" stroke-width="6"/>
<circle cx="1595.20" cy="216.60" r="15" fill="#fff" stroke="#161616" stroke-width="6"/>
<circle cx="1668.30" cy="224.00" r="15" fill="#fff" stroke="#161616" stroke-width="6"/>
<circle cx="1741.40" cy="244.00" r="15" fill="#fff" stroke="#161616" stroke-width="6"/>
<circle cx="1814.50" cy="262.50" r="15" fill="#fff" stroke="#161616" stroke-width="6"/>
<path d="M352.50,262.70L370.70,280.90L352.50,299.10L334.30,280.90Z" fill="#fff" stroke="#161616" stroke-width="6" stroke-linejoin="miter"/>
<path d="M425.60,237.80L443.80,256.00L425.60,274.20L407.40,256.00Z" fill="#fff" stroke="#161616" stroke-width="6" stroke-linejoin="miter"/>
<path d="M498.70,194.80L516.90,213.00L498.70,231.20L480.50,213.00Z" fill="#fff" stroke="#161616" stroke-width="6" stroke-linejoin="miter"/>
<path d="M571.80,126.30L590.00,144.50L571.80,162.70L553.60,144.50Z" fill="#fff" stroke="#161616" stroke-width="6" stroke-linejoin="miter"/>
<path d="M644.90,221.10L663.10,239.30L644.90,257.50L626.70,239.30Z" fill="#fff" stroke="#161616" stroke-width="6" stroke-linejoin="miter"/>
<path d="M718.00,398.80L736.20,417.00L718.00,435.20L699.80,417.00Z" fill="#fff" stroke="#161616" stroke-width="6" stroke-linejoin="miter"/>
<path d="M791.10,568.10L809.30,586.30L791.10,604.50L772.90,586.30Z" fill="#fff" stroke="#161616" stroke-width="6" stroke-linejoin="miter"/>
<path d="M864.20,738.00L882.40,756.20L864.20,774.40L846.00,756.20Z" fill="#fff" stroke="#161616" stroke-width="6" stroke-linejoin="miter"/>
<path d="M937.30,745.30L955.50,763.50L937.30,781.70L919.10,763.50Z" fill="#fff" stroke="#161616" stroke-width="6" stroke-linejoin="miter"/>
<path d="M1010.40,718.20L1028.60,736.40L1010.40,754.60L992.20,736.40Z" fill="#fff" stroke="#161616" stroke-width="6" stroke-linejoin="miter"/>
<path d="M1083.50,703.40L1101.70,721.60L1083.50,739.80L1065.30,721.60Z" fill="#fff" stroke="#161616" stroke-width="6" stroke-linejoin="miter"/>
<path d="M1156.60,718.20L1174.80,736.40L1156.60,754.60L1138.40,736.40Z" fill="#fff" stroke="#161616" stroke-width="6" stroke-linejoin="miter"/>
<path d="M1229.70,745.30L1247.90,763.50L1229.70,781.70L1211.50,763.50Z" fill="#fff" stroke="#161616" stroke-width="6" stroke-linejoin="miter"/>
<path d="M1302.80,740.80L1321.00,759.00L1302.80,777.20L1284.60,759.00Z" fill="#fff" stroke="#161616" stroke-width="6" stroke-linejoin="miter"/>
<path d="M1375.90,571.80L1394.10,590.00L1375.90,608.20L1357.70,590.00Z" fill="#fff" stroke="#161616" stroke-width="6" stroke-linejoin="miter"/>
<path d="M1449.00,398.80L1467.20,417.00L1449.00,435.20L1430.80,417.00Z" fill="#fff" stroke="#161616" stroke-width="6" stroke-linejoin="miter"/>
<path d="M1522.10,214.10L1540.30,232.30L1522.10,250.50L1503.90,232.30Z" fill="#fff" stroke="#161616" stroke-width="6" stroke-linejoin="miter"/>
<path d="M1595.20,123.90L1613.40,142.10L1595.20,160.30L1577.00,142.10Z" fill="#fff" stroke="#161616" stroke-width="6" stroke-linejoin="miter"/>
<path d="M1668.30,194.80L1686.50,213.00L1668.30,231.20L1650.10,213.00Z" fill="#fff" stroke="#161616" stroke-width="6" stroke-linejoin="miter"/>
<path d="M1741.40,237.80L1759.60,256.00L1741.40,274.20L1723.20,256.00Z" fill="#fff" stroke="#161616" stroke-width="6" stroke-linejoin="miter"/>
<path d="M1814.50,262.70L1832.70,280.90L1814.50,299.10L1796.30,280.90Z" fill="#fff" stroke="#161616" stroke-width="6" stroke-linejoin="miter"/>
<path d="M352.50,257.98L369.75,287.86L335.25,287.86Z" fill="#fff" stroke="#161616" stroke-width="6" stroke-linejoin="miter" stroke-miterlimit="10"/>
<path d="M425.60,244.08L442.85,273.96L408.35,273.96Z" fill="#fff" stroke="#161616" stroke-width="6" stroke-linejoin="miter" stroke-miterlimit="10"/>
<path d="M498.70,228.88L515.95,258.76L481.45,258.76Z" fill="#fff" stroke="#161616" stroke-width="6" stroke-linejoin="miter" stroke-miterlimit="10"/>
<path d="M571.80,225.88L589.05,255.76L554.55,255.76Z" fill="#fff" stroke="#161616" stroke-width="6" stroke-linejoin="miter" stroke-miterlimit="10"/>
<path d="M644.90,251.88L662.15,281.76L627.65,281.76Z" fill="#fff" stroke="#161616" stroke-width="6" stroke-linejoin="miter" stroke-miterlimit="10"/>
<path d="M718.00,320.68L735.25,350.56L700.75,350.56Z" fill="#fff" stroke="#161616" stroke-width="6" stroke-linejoin="miter" stroke-miterlimit="10"/>
<path d="M791.10,435.18L808.35,465.06L773.85,465.06Z" fill="#fff" stroke="#161616" stroke-width="6" stroke-linejoin="miter" stroke-miterlimit="10"/>
<path d="M864.20,577.08L881.45,606.96L846.95,606.96Z" fill="#fff" stroke="#161616" stroke-width="6" stroke-linejoin="miter" stroke-miterlimit="10"/>
<path d="M937.30,712.08L954.55,741.96L920.05,741.96Z" fill="#fff" stroke="#161616" stroke-width="6" stroke-linejoin="miter" stroke-miterlimit="10"/>
<path d="M1010.40,805.88L1027.65,835.76L993.15,835.76Z" fill="#fff" stroke="#161616" stroke-width="6" stroke-linejoin="miter" stroke-miterlimit="10"/>
<path d="M1083.50,839.28L1100.75,869.16L1066.25,869.16Z" fill="#fff" stroke="#161616" stroke-width="6" stroke-linejoin="miter" stroke-miterlimit="10"/>
<path d="M1156.60,805.88L1173.85,835.76L1139.35,835.76Z" fill="#fff" stroke="#161616" stroke-width="6" stroke-linejoin="miter" stroke-miterlimit="10"/>
<path d="M1229.70,712.08L1246.95,741.96L1212.45,741.96Z" fill="#fff" stroke="#161616" stroke-width="6" stroke-linejoin="miter" stroke-miterlimit="10"/>
<path d="M1302.80,577.08L1320.05,606.96L1285.55,606.96Z" fill="#fff" stroke="#161616" stroke-width="6" stroke-linejoin="miter" stroke-miterlimit="10"/>
<path d="M1375.90,435.18L1393.15,465.06L1358.65,465.06Z" fill="#fff" stroke="#161616" stroke-width="6" stroke-linejoin="miter" stroke-miterlimit="10"/>
<path d="M1449.00,320.68L1466.25,350.56L1431.75,350.56Z" fill="#fff" stroke="#161616" stroke-width="6" stroke-linejoin="miter" stroke-miterlimit="10"/>
<path d="M1522.10,251.88L1539.35,281.76L1504.85,281.76Z" fill="#fff" stroke="#161616" stroke-width="6" stroke-linejoin="miter" stroke-miterlimit="10"/>
<path d="M1595.20,225.88L1612.45,255.76L1577.95,255.76Z" fill="#fff" stroke="#161616" stroke-width="6" stroke-linejoin="miter" stroke-miterlimit="10"/>
<path d="M1668.30,228.88L1685.55,258.76L1651.05,258.76Z" fill="#fff" stroke="#161616" stroke-width="6" stroke-linejoin="miter" stroke-miterlimit="10"/>
<path d="M1741.40,244.08L1758.65,273.96L1724.15,273.96Z" fill="#fff" stroke="#161616" stroke-width="6" stroke-linejoin="miter" stroke-miterlimit="10"/>
<path d="M1814.50,257.98L1831.75,287.86L1797.25,287.86Z" fill="#fff" stroke="#161616" stroke-width="6" stroke-linejoin="miter" stroke-miterlimit="10"/>
<rect x="339.40" y="266.90" width="26.20" height="26.20" fill="#fff" stroke="#161616" stroke-width="5.7"/>
<rect x="412.50" y="249.90" width="26.20" height="26.20" fill="#fff" stroke="#161616" stroke-width="5.7"/>
<rect x="485.60" y="229.90" width="26.20" height="26.20" fill="#fff" stroke="#161616" stroke-width="5.7"/>
<rect x="558.70" y="215.70" width="26.20" height="26.20" fill="#fff" stroke="#161616" stroke-width="5.7"/>
<rect x="631.80" y="237.90" width="26.20" height="26.20" fill="#fff" stroke="#161616" stroke-width="5.7"/>
<rect x="704.90" y="318.90" width="26.20" height="26.20" fill="#fff" stroke="#161616" stroke-width="5.7"/>
<rect x="778.00" y="455.90" width="26.20" height="26.20" fill="#fff" stroke="#161616" stroke-width="5.7"/>
<rect x="851.10" y="609.90" width="26.20" height="26.20" fill="#fff" stroke="#161616" stroke-width="5.7"/>
<rect x="924.20" y="741.70" width="26.20" height="26.20" fill="#fff" stroke="#161616" stroke-width="5.7"/>
<rect x="997.30" y="828.90" width="26.20" height="26.20" fill="#fff" stroke="#161616" stroke-width="5.7"/>
<rect x="1070.40" y="859.90" width="26.20" height="26.20" fill="#fff" stroke="#161616" stroke-width="5.7"/>
<rect x="1143.50" y="828.90" width="26.20" height="26.20" fill="#fff" stroke="#161616" stroke-width="5.7"/>
<rect x="1216.60" y="741.70" width="26.20" height="26.20" fill="#fff" stroke="#161616" stroke-width="5.7"/>
<rect x="1289.70" y="609.90" width="26.20" height="26.20" fill="#fff" stroke="#161616" stroke-width="5.7"/>
<rect x="1362.80" y="455.90" width="26.20" height="26.20" fill="#fff" stroke="#161616" stroke-width="5.7"/>
<rect x="1435.90" y="318.90" width="26.20" height="26.20" fill="#fff" stroke="#161616" stroke-width="5.7"/>
<rect x="1509.00" y="237.90" width="26.20" height="26.20" fill="#fff" stroke="#161616" stroke-width="5.7"/>
<rect x="1582.10" y="215.70" width="26.20" height="26.20" fill="#fff" stroke="#161616" stroke-width="5.7"/>
<rect x="1655.20" y="229.90" width="26.20" height="26.20" fill="#fff" stroke="#161616" stroke-width="5.7"/>
<rect x="1728.30" y="249.90" width="26.20" height="26.20" fill="#fff" stroke="#161616" stroke-width="5.7"/>
<rect x="1801.40" y="266.90" width="26.20" height="26.20" fill="#fff" stroke="#161616" stroke-width="5.7"/>
<rect x="279.6" y="28.5" width="1606.8000000000002" height="1295.9" fill="none" stroke="#161616" stroke-width="2.7"/>
<path d="M279.6,1243.40h12M279.6,1162.40h24M279.6,1081.40h12M279.6,1000.40h24M279.6,919.40h12M279.6,838.40h24M279.6,757.40h12M279.6,676.40h24M279.6,595.40h12M279.6,514.40h24M279.6,433.40h12M279.6,352.40h24M279.6,271.40h12M279.6,190.40h24M279.6,109.40h12M352.50,1324.4v-23M498.70,1324.4v-11.5M644.90,1324.4v-23M791.10,1324.4v-11.5M937.30,1324.4v-23M1083.50,1324.4v-11.5M1229.70,1324.4v-23M1375.90,1324.4v-11.5M1522.10,1324.4v-23M1668.30,1324.4v-11.5M1814.50,1324.4v-23" stroke="#161616" stroke-width="2.7" fill="none"/>
<text y="1347.60" font-size="63.5" text-anchor="end"><tspan x="150.3" font-size="70" dy="-4">−</tspan><tspan x="243.4" dy="4">600</tspan></text>
<text y="1185.60" font-size="63.5" text-anchor="end"><tspan x="150.3" font-size="70" dy="-4">−</tspan><tspan x="243.4" dy="4">500</tspan></text>
<text y="1023.60" font-size="63.5" text-anchor="end"><tspan x="150.3" font-size="70" dy="-4">−</tspan><tspan x="243.4" dy="4">400</tspan></text>
<text y="861.60" font-size="63.5" text-anchor="end"><tspan x="150.3" font-size="70" dy="-4">−</tspan><tspan x="243.4" dy="4">300</tspan></text>
<text y="699.60" font-size="63.5" text-anchor="end"><tspan x="150.3" font-size="70" dy="-4">−</tspan><tspan x="243.4" dy="4">200</tspan></text>
<text y="537.60" font-size="63.5" text-anchor="end"><tspan x="150.3" font-size="70" dy="-4">−</tspan><tspan x="243.4" dy="4">100</tspan></text>
<text x="243.4" y="375.60" font-size="63.5" text-anchor="end">0</text>
<text x="243.4" y="213.60" font-size="63.5" text-anchor="end">100</text>
<text x="243.4" y="51.60" font-size="63.5" text-anchor="end">200</text>
<text x="352.5" y="1406" font-size="63.5" text-anchor="middle">0</text>
<text x="642" y="1406" font-size="63.5" text-anchor="middle">0.2</text>
<text x="932.7" y="1406" font-size="63.5" text-anchor="middle">0.4</text>
<text x="1223" y="1406" font-size="63.5" text-anchor="middle">0.6</text>
<text x="1512.5" y="1406" font-size="63.5" text-anchor="middle">0.8</text>
<text x="1804" y="1406" font-size="63.5" text-anchor="middle">1.0</text>
<text x="926" y="1473.4" font-size="63.5"><tspan class="cjk" font-size="62.5" dy="6.5">路径长度</tspan><tspan dy="-6.5">/m</tspan></text>
<text transform="translate(72.7,923.7) rotate(-90)" x="0" y="0" font-size="63.5"><tspan class="cjk" font-size="63.2" dy="6.5">辐射源项</tspan><tspan dy="-6.5">/(kW/m</tspan><tspan font-size="40" dy="-24">3</tspan><tspan dy="24">)</tspan></text>
<path d="M313,701.9H456" stroke="#161616" stroke-width="5.6"/>
<path d="M313,793H444" stroke="#161616" stroke-width="5.9" stroke-dasharray="14.8 23.8"/>
<path d="M367.80,867.40L400.80,900.40M367.80,900.40L400.80,867.40" fill="none" stroke="#161616" stroke-width="5.8" stroke-linecap="butt"/>
<circle cx="384.30" cy="974.70" r="15" fill="#fff" stroke="#161616" stroke-width="6"/>
<path d="M384.30,1047.70L402.50,1065.90L384.30,1084.10L366.10,1065.90Z" fill="#fff" stroke="#161616" stroke-width="6" stroke-linejoin="miter"/>
<path d="M384.30,1136.68L401.55,1166.56L367.05,1166.56Z" fill="#fff" stroke="#161616" stroke-width="6" stroke-linejoin="miter" stroke-miterlimit="10"/>
<rect x="371.20" y="1234.50" width="26.20" height="26.20" fill="#fff" stroke="#161616" stroke-width="5.7"/>
<text transform="translate(482.70,0) scale(1.0009,1) translate(-484.00,0)" x="482" y="728.2" font-size="63.5">LBL</text>
<text transform="translate(482.70,0) scale(1.0104,1) translate(-484.00,0)" x="482" y="820.0" font-size="63.5">RC-WSGG</text>
<text transform="translate(483.90,0) scale(0.9818,1) translate(-485.00,0)" x="482" y="910.5" font-size="63.5">Guo 2015</text>
<text transform="translate(482.70,0) scale(0.9826,1) translate(-484.00,0)" x="482" y="1000.8" font-size="63.5">Dorigon 2013</text>
<text transform="translate(483.50,0) scale(0.9841,1) translate(-485.00,0)" x="482" y="1091.8" font-size="63.5">Cassol 2014</text>
<text transform="translate(483.90,0) scale(0.9751,1) translate(-485.00,0)" x="482" y="1182.5" font-size="63.5">Guo 2021</text>
<text transform="translate(482.70,0) scale(0.9882,1) translate(-484.00,0)" x="482" y="1273.5" font-size="63.5">Bordbar 2014</text>
<text font-size="63.5"><tspan x="798.0" y="185.8" font-style="italic">T</tspan><tspan x="831.3" y="185.8">(</tspan><tspan x="852.0" y="185.8" font-style="italic">x</tspan><tspan x="879.8 898.4 935.7 967.3 998.3 1027.9 1066.4 1096.7 1127.5 1158.6 1190.3 1206.0 1231.5 1247.2" y="185.8">)=400+1400 sin</tspan><tspan x="1278.0" y="164.9" font-size="41.4">2</tspan><tspan x="1299.1" y="185.8">(</tspan><tspan x="1323.2 1351.3" y="185.8" font-style="italic">πx</tspan><tspan x="1379.3" y="185.8">/</tspan><tspan x="1397.1" y="185.8" font-style="italic">L</tspan><tspan x="1432.2" y="185.8">)</tspan></text>
<text font-size="63.5"><tspan x="798.3" y="267.5" font-style="italic">Y</tspan><tspan x="832.2" y="285.9" font-size="43">w</tspan><tspan x="861.3" y="267.5">(</tspan><tspan x="882.0" y="267.5" font-style="italic">x</tspan><tspan x="909.6 928.4 966.2 997.8 1011.0 1042.8 1059.7 1086.3 1101.5" y="267.5">)=0.2 sin</tspan><tspan x="1132.7" y="248.0" font-size="41.4">2</tspan><tspan x="1152.4 1173.1" y="267.5">(2</tspan><tspan x="1207.1 1235.0" y="267.5" font-style="italic">πx</tspan><tspan x="1265.0" y="267.5">/</tspan><tspan x="1282.5" y="267.5" font-style="italic">L</tspan><tspan x="1317.4" y="267.5">)</tspan></text>
<text font-size="63.5"><tspan x="805.5" y="358.6" font-style="italic">Y</tspan><tspan x="838.6" y="376.5" font-size="43">c</tspan><tspan x="855.9" y="358.6">(</tspan><tspan x="877.0" y="358.6" font-style="italic">x</tspan><tspan x="906.4 924.5 961.6 993.1 1007.2 1039.0 1055.7 1082.9 1115.0" y="358.6">)=0.2 cos</tspan><tspan x="1138.8" y="338.0" font-size="41.4">2</tspan><tspan x="1158.5 1179.2" y="358.6">(2</tspan><tspan x="1213.2 1241.9" y="358.6" font-style="italic">πx</tspan><tspan x="1271.1" y="358.6">/</tspan><tspan x="1288.7" y="358.6" font-style="italic">L</tspan><tspan x="1322.8" y="358.6">)</tspan></text>
</svg></body></html>
